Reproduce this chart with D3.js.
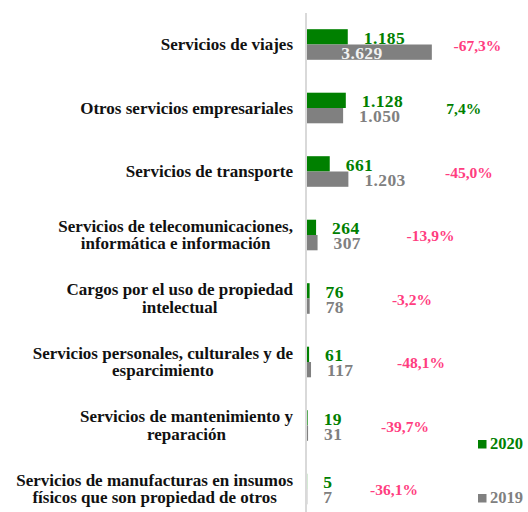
<!DOCTYPE html>
<html>
<head>
<meta charset="utf-8">
<script src="https://cdn.jsdelivr.net/npm/d3@7"></script>
<style>
  html, body { margin: 0; padding: 0; background: #fff; }
  svg { display: block; }
  text { font-family: "Liberation Serif", "Times New Roman", serif; font-weight: bold; }
</style>
</head>
<body>
<svg id="chart" width="528" height="512"></svg>
<script>
// ---- data ----
const categories = [
  ["Servicios de viajes"],
  ["Otros servicios empresariales"],
  ["Servicios de transporte"],
  ["Servicios de telecomunicaciones,", "informática e información"],
  ["Cargos por el uso de propiedad", "intelectual"],
  ["Servicios personales, culturales y de", "esparcimiento"],
  ["Servicios de mantenimiento y", "reparación"],
  ["Servicios de manufacturas en insumos", "físicos que son propiedad de otros"]
];
const values2020 = [1185, 1128, 661, 264, 76, 61, 19, 5];
const values2019 = [3629, 1050, 1203, 307, 78, 117, 31, 7];
const labels2020 = ["1.185", "1.128", "661", "264", "76", "61", "19", "5"];
const labels2019 = ["3.629", "1.050", "1.203", "307", "78", "117", "31", "7"];
const changeLabels = ["-67,3%", "7,4%", "-45,0%", "-13,9%", "-3,2%", "-48,1%", "-39,7%", "-36,1%"];
// hidden helper series (data units) that carries the variation labels
const changeAnchor = [4956, 4555, 4709, 3590, 3052, 3314, 2849, 2529];
const seriesNames = ["2020", "2019"];

// ---- styles ----
const GREEN = "#008000", GRAY = "#808080", PINK = "#ff3d7f";

const svg = d3.select("#chart");
const keys = categories.map((c, i) => i);

const x = d3.scaleLinear().domain([0, 5000]).range([307, 479]);
const y = d3.scaleBand().domain(keys).range([12.75, 520.75]).padding(0);
const ys = d3.scaleBand().domain(seriesNames).range([-15.3, 15.3]).padding(0);
const center = i => y(i) + y.bandwidth() / 2;

// axis line
svg.append("line")
  .attr("x1", 306).attr("x2", 306)
  .attr("y1", 13).attr("y2", 512)
  .attr("stroke", "#d9d9d9").attr("stroke-width", 2);

const rows = keys.map(i => ({
  i, v2020: values2020[i], v2019: values2019[i],
  l2020: labels2020[i], l2019: labels2019[i],
  chg: changeLabels[i], anchor: changeAnchor[i], lines: categories[i]
}));

const g = svg.selectAll("g.row").data(rows).join("g").attr("class", "row");

// bars
g.append("rect")
  .attr("x", x(0)).attr("y", d => center(d.i) + ys("2020"))
  .attr("width", d => x(d.v2020) - x(0)).attr("height", ys.bandwidth())
  .attr("fill", GREEN);
g.append("rect")
  .attr("x", x(0)).attr("y", d => center(d.i) + ys("2019"))
  .attr("width", d => x(d.v2019) - x(0)).attr("height", ys.bandwidth())
  .attr("fill", GRAY);

// value labels
g.append("text")
  .attr("x", d => x(d.v2020) + 16)
  .attr("y", d => center(d.i) - 1)
  .attr("font-size", 17.5).attr("fill", GREEN)
  .attr("letter-spacing", 0.4)
  .text(d => d.l2020);
g.append("text")
  .attr("x", d => d.v2019 > 3000 ? x(d.v2020) - 6.5 : x(d.v2019) + 16)
  .attr("y", d => center(d.i) + 14)
  .attr("font-size", 17.5)
  .attr("letter-spacing", 0.4)
  .attr("fill", d => d.v2019 > 3000 ? "#f2f2f2" : GRAY)
  .text(d => d.l2019);

// variation labels
g.append("text")
  .attr("x", d => x(d.anchor))
  .attr("y", d => center(d.i) + 6)
  .attr("text-anchor", "middle")
  .attr("font-size", 15.5)
  .attr("fill", d => d.chg.startsWith("-") ? PINK : GREEN)
  .text(d => d.chg);

// category labels (centered lines, block right-aligned to the axis)
const lineH = 17.5;
g.append("text")
  .attr("text-anchor", "middle")
  .attr("font-size", 17)
  .attr("fill", "#111")
  .each(function(d) {
    const t = d3.select(this);
    const n = d.lines.length;
    const spans = d.lines.map((ln, k) =>
      t.append("tspan")
        .attr("y", center(d.i) + 5.5 + (k - (n - 1) / 2) * lineH)
        .text(ln));
    const maxW = d3.max(spans, s => s.node().getComputedTextLength());
    spans.forEach(s => s.attr("x", 293 - maxW / 2));
  });

// legend
const legend = svg.selectAll("g.leg").data(seriesNames).join("g").attr("class", "leg")
  .attr("transform", (d, k) => `translate(478, ${440 + k * 54})`);
legend.append("rect").attr("width", 8.5).attr("height", 8.5)
  .attr("fill", (d, k) => k === 0 ? GREEN : GRAY);
legend.append("text").attr("x", 12).attr("y", 9)
  .attr("font-size", 16.5)
  .attr("fill", (d, k) => k === 0 ? GREEN : GRAY)
  .text(d => d);
</script>
</body>
</html>
